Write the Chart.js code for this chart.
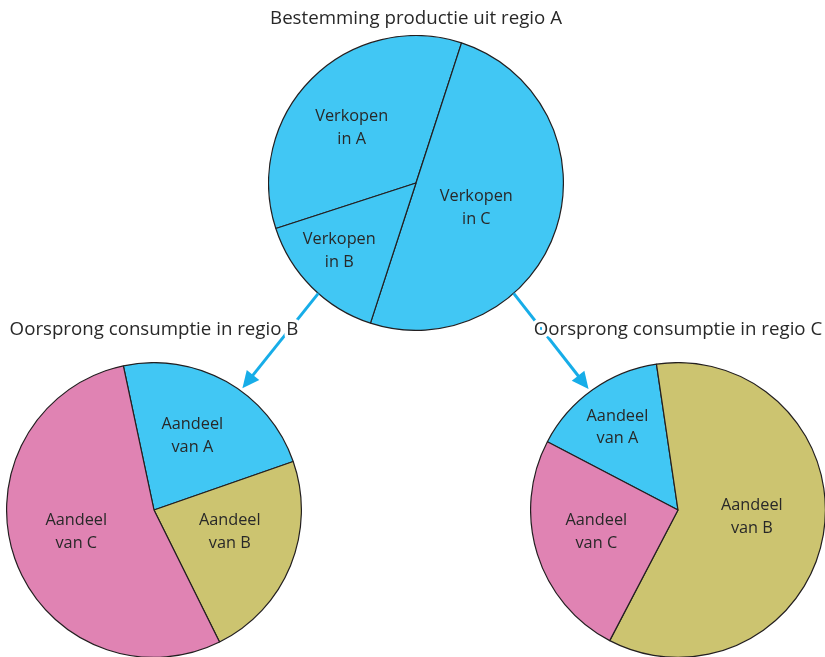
<!DOCTYPE html>
<html>
<head>
<meta charset="utf-8">
<script src="https://cdn.jsdelivr.net/npm/chart.js@4/dist/chart.umd.min.js"></script>
<style>
    html, body { margin: 0; padding: 0; background: #fff; overflow: hidden; }
    #stage { position: relative; width: 825px; height: 657px; }
    #stage canvas { position: absolute; }
    #pieA { left: 268px; top: 35px; }
    #pieB { left: 6px; top: 362px; }
    #pieC { left: 530px; top: 362px; }
    #overlay { left: 0; top: 0; }
</style>
</head>
<body>
<div id="stage">
    <canvas id="pieA" width="296" height="296"></canvas>
    <canvas id="pieB" width="296" height="296"></canvas>
    <canvas id="pieC" width="296" height="296"></canvas>
    <canvas id="overlay" width="825" height="657"></canvas>
</div>
<script>
/* ── Data (aandelen in %) ───────────────────────── */
const salesLabels = ['Verkopen in A', 'Verkopen in C', 'Verkopen in B'];
const salesValues = [35, 50, 15];

const shareLabels = ['Aandeel van A', 'Aandeel van B', 'Aandeel van C'];
const shareInB = [23, 23, 54];
const shareInC = [15, 60, 25];

const titles = [
    'Bestemming productie uit regio A',
    'Oorsprong consumptie in regio B',
    'Oorsprong consumptie in regio C',
];

/* ── Styling ───────────────────────────────────── */
const BLUE = '#41c7f4';
const OLIVE = '#ccc470';
const PINK = '#e083b3';
const INK = '#282828';
const ARROW = '#17ade8';
const FONT = '"Open Sans", "Noto Sans", sans-serif';

/* labels sit near the slice bisector: [fraction of radius, angle nudge in degrees] */
const sliceLabels = {
    id: 'sliceLabels',
    afterDatasetsDraw(chart, args, opts) {
        const ctx = chart.ctx;
        const meta = chart.getDatasetMeta(0);
        ctx.save();
        ctx.font = '16.3px ' + FONT;
        ctx.fillStyle = INK;
        ctx.textAlign = 'center';
        ctx.textBaseline = 'middle';
        meta.data.forEach((arc, i) => {
            const [frac, nudge] = opts.place[i];
            const mid = (arc.startAngle + arc.endAngle) / 2 + nudge * Math.PI / 180;
            const r = arc.outerRadius * frac;
            const x = arc.x + Math.cos(mid) * r;
            const y = arc.y + Math.sin(mid) * r;
            const label = chart.data.labels[i];
            const cut = label.indexOf(' ');
            ctx.fillText(label.slice(0, cut), x, y - 11.3);
            ctx.fillText(label.slice(cut + 1), x, y + 11.3);
        });
        ctx.restore();
    },
};

function makePie(id, labels, data, colors, rotation, place) {
    return new Chart(document.getElementById(id), {
        type: 'pie',
        data: {
            labels,
            datasets: [{
                data,
                backgroundColor: colors,
                borderColor: '#231f20',
                borderWidth: 1.2,
                hoverOffset: 0,
                offset: 0,
            }],
        },
        options: {
            responsive: false,
            animation: false,
            rotation,
            layout: { padding: 0 },
            events: [],
            plugins: {
                legend: { display: false },
                tooltip: { enabled: false },
                sliceLabels: { place },
            },
        },
        plugins: [sliceLabels],
    });
}

const pieA = makePie('pieA', salesLabels, salesValues, [BLUE, BLUE, BLUE], -108,
    [[0.575, -4.4], [0.443, 4.5], [0.694, 3.6]]);
const pieB = makePie('pieB', shareLabels, shareInB, [BLUE, OLIVE, PINK], -12,
    [[0.567, -2.1], [0.535, -6], [0.548, 3.4]]);
const pieC = makePie('pieC', shareLabels, shareInC, [BLUE, OLIVE, PINK], -62.4,
    [[0.696, -0.8], [0.503, -4.4], [0.574, 2.3]]);

/* ── Arrows and titles on top ──────────────────── */
function geom(chart) {
    const arc = chart.getDatasetMeta(0).data[0];
    return {
        x: chart.canvas.offsetLeft + arc.x,
        y: chart.canvas.offsetTop + arc.y,
        r: arc.outerRadius,
    };
}

// angle in degrees, clockwise from 12 o'clock
function onRim(g, deg, extra) {
    const t = (deg - 90) * Math.PI / 180;
    return { x: g.x + Math.cos(t) * (g.r + extra), y: g.y + Math.sin(t) * (g.r + extra) };
}

function arrow(ctx, from, to) {
    const ang = Math.atan2(to.y - from.y, to.x - from.x);
    const head = 17;
    const half = 8;
    const bx = to.x - Math.cos(ang) * head;
    const by = to.y - Math.sin(ang) * head;
    ctx.strokeStyle = ARROW;
    ctx.fillStyle = ARROW;
    ctx.lineWidth = 3;
    ctx.beginPath();
    ctx.moveTo(from.x, from.y);
    ctx.lineTo(bx + Math.cos(ang) * 2, by + Math.sin(ang) * 2);
    ctx.stroke();
    ctx.beginPath();
    ctx.moveTo(to.x, to.y);
    ctx.lineTo(bx - Math.sin(ang) * half, by + Math.cos(ang) * half);
    ctx.lineTo(bx + Math.sin(ang) * half, by - Math.cos(ang) * half);
    ctx.closePath();
    ctx.fill();
}

const overlay = document.getElementById('overlay').getContext('2d');
const gA = geom(pieA);
const gB = geom(pieB);
const gC = geom(pieC);

arrow(overlay, onRim(gA, 221.5, 0), onRim(gB, 36, 3));
arrow(overlay, onRim(gA, 138.5, 0), onRim(gC, -36.5, 3));

overlay.font = '18.7px ' + FONT;
overlay.textAlign = 'center';
overlay.textBaseline = 'alphabetic';
overlay.lineJoin = 'round';
[[gA, 24], [gB, 335], [gC, 335]].forEach(([g, base], i) => {
    overlay.strokeStyle = '#fff';
    overlay.lineWidth = 7;
    overlay.strokeText(titles[i], g.x, base);
    overlay.fillStyle = INK;
    overlay.fillText(titles[i], g.x, base);
});
</script>
</body>
</html>
